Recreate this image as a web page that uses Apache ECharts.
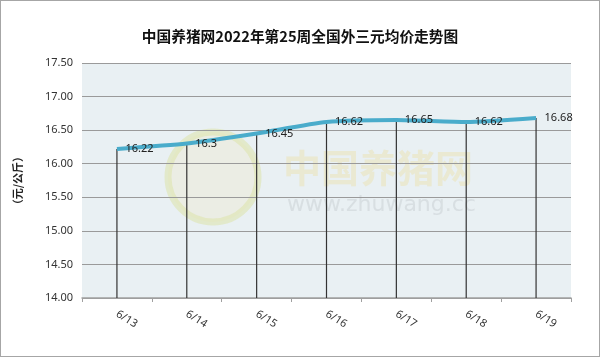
<!DOCTYPE html>
<html>
<head>
<meta charset="utf-8">
<script src="https://cdn.jsdelivr.net/npm/echarts@6/dist/echarts.min.js"></script>
<style>
  html, body { margin: 0; padding: 0; background: #fff; }
  #main { width: 600px; height: 357px; box-sizing: border-box; border: 1px solid #a6a6a6; }
</style>
</head>
<body>
<div id="main"></div>
<script>
// 第25周 全国外三元均价
const dates = ['6/13', '6/14', '6/15', '6/16', '6/17', '6/18', '6/19'];
const prices = [16.22, 16.3, 16.45, 16.62, 16.65, 16.62, 16.68];
const yMin = 14, yMax = 17.5, yStep = 0.5;

const chart = echarts.init(document.getElementById('main'));
chart.setOption({
  animation: false,
  title: {
    text: '中国养猪网2022年第25周全国外三元均价走势图',
    left: 'center',
    top: 23,
    textStyle: { fontSize: 14.7, fontWeight: 'bold', color: '#111', fontFamily: 'Noto Sans CJK SC' }
  },
  graphic: [
    {
      type: 'text', left: 11, top: 150, rotation: Math.PI / 2,
      style: { text: '（元/公斤）', fontSize: 11, fontWeight: 'bold', fill: '#222', fontFamily: 'Noto Sans CJK SC' }
    },
    // 水印
    {
      type: 'circle', shape: { cx: 212, cy: 176, r: 45 }, z: 0, silent: true,
      style: { fill: 'rgba(240,232,200,0.35)', stroke: 'rgba(220,228,170,0.55)', lineWidth: 7 }
    },
    {
      type: 'text', left: 282, top: 148, z: 0,
      style: { text: '中国养猪网', fontSize: 38, fontWeight: 'bold', fill: 'rgba(235,225,170,0.45)', fontFamily: 'Noto Sans CJK SC' }
    },
    {
      type: 'text', left: 286, top: 193, z: 0,
      style: { text: 'www.zhuwang.cc', fontSize: 22, fill: 'rgba(200,205,210,0.5)', fontFamily: 'DejaVu Sans' }
    }
  ],
  grid: { left: 81, right: 28, top: 62, bottom: 58, show: true, backgroundColor: '#e9f0f3', borderWidth: 0 },
  xAxis: {
    type: 'category',
    data: dates,
    boundaryGap: true,
    axisLine: { lineStyle: { color: '#a0a0a0', width: 1.5 } },
    axisTick: { show: true, length: 4, lineStyle: { color: '#a0a0a0' } },
    axisLabel: { rotate: -32, margin: 15, fontSize: 11, color: '#333', fontFamily: 'Noto Sans' }
  },
  yAxis: {
    type: 'value',
    min: yMin, max: yMax, interval: yStep,
    axisLine: { show: false },
    axisTick: { show: false },
    splitLine: { lineStyle: { color: '#9a9a9a' } },
    axisLabel: { formatter: v => v.toFixed(2), fontSize: 11, color: '#333', margin: 9, fontFamily: 'Noto Sans' }
  },
  series: [
    {
      name: '竖线',
      type: 'bar',
      data: prices,
      barWidth: 1.2,
      itemStyle: { color: '#333' },
      silent: true,
      z: 2
    },
    {
      name: '均价',
      type: 'line',
      data: prices,
      smooth: 0.2,
      symbol: 'circle',
      symbolSize: 1,
      showSymbol: true,
      itemStyle: { color: 'rgba(0,0,0,0)' },
      lineStyle: { color: '#4aaccb', width: 4 },
      label: {
        show: true, position: 'right', distance: 8, offset: [0, 3],
        fontSize: 11, color: '#222', fontFamily: 'Noto Sans'
      },
      labelLayout: { hideOverlap: false },
      z: 3
    }
  ]
});
</script>
</body>
</html>
